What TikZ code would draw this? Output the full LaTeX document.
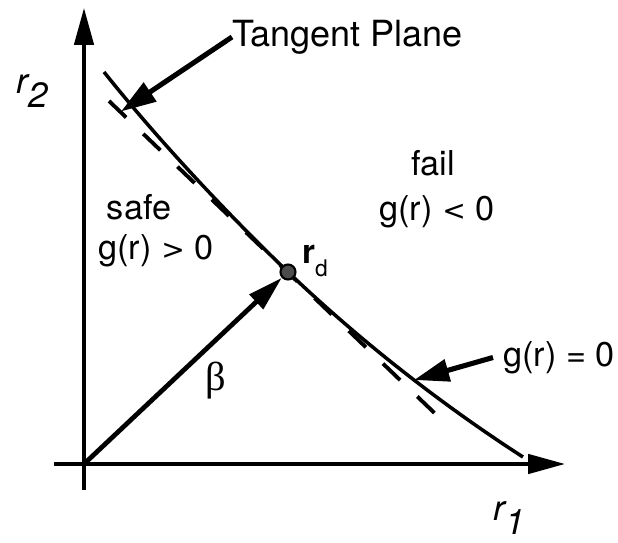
\documentclass[tikz,border=0pt]{standalone}
\usepackage{fontspec}
\setmainfont{TeX Gyre Heros}
\newfontfamily\greekfont{Liberation Serif}
\newfontfamily\relfont{DejaVu Sans}
\usetikzlibrary{arrows.meta}

\tikzset{
  axis/.style={line width=2pt, -{Triangle[length=21pt,width=11pt]}},
  limitstate/.style={line width=2pt},
  tangentline/.style={line width=2.2pt, dash pattern=on 13.5pt off 13.5pt},
  leader/.style={line width=2.9pt, -{Triangle[length=20pt,width=12.5pt]}},
  betavec/.style={line width=2.7pt, -{Triangle[length=20pt,width=11pt]}},
  lbl/.style={font=\fontsize{19.5}{23}\selectfont, inner sep=0pt},
  axislbl/.style={font=\fontsize{20}{23}\selectfont\itshape, inner sep=0pt},
}
\newcommand{\rel}[1]{{\relfont\fontsize{16}{18}\selectfont #1}}

\begin{document}
\begin{tikzpicture}
    \useasboundingbox (-1.68,-1.58) rectangle (10.68,9.28);

    %% axes
    \coordinate (O) at (0,0);
    \coordinate (xstart) at (-0.6,0);
    \coordinate (xend) at (9.62,0);
    \coordinate (ystart) at (0,-0.52);
    \coordinate (yend) at (0,9.12);
    \draw[axis] (xstart) -- (xend);
    \draw[axis] (ystart) -- (yend);
    \node[axislbl] (r1) at (8.5,-1.08) {r\raisebox{-0.4em}{1}};
    \node[axislbl] (r2) at (-1.04,7.46) {r\raisebox{-0.4em}{2}};

    %% limit state surface
    \coordinate (top) at (0.4,7.84);
    \coordinate (bottom) at (8.78,0.14);
    \coordinate (rdpt) at (4.08,3.84);
    \draw[limitstate] (top) .. controls (1.5,6.46) and (2.88,4.99) .. (rdpt)
        .. controls (5.68,2.31) and (7.38,1.04) .. (bottom);

    %% tangent plane at the design point
    \coordinate (tstart) at (0.5,7.26);
    \coordinate (tend) at (7.26,0.78);
    \draw[tangentline] (tstart) -- (tend);

    %% design point and beta
    \node[circle, draw, line width=1.2pt, fill=black!70, minimum size=0.3cm,
          inner sep=0pt] (rd) at (rdpt) {};
    \draw[betavec] (O) -- (rd);
    \node[inner sep=0pt, font=\fontsize{19}{22}\selectfont] (rdlbl) at (4.62,4.06)
        {\bfseries r\raisebox{-0.4em}{\fontsize{13}{14}\selectfont\mdseries d}};
    \node[inner sep=0pt, font=\fontsize{23}{26}\selectfont\greekfont] (beta)
        at (2.64,1.66) {β};

    %% regions
    \node[lbl] (fail) at (6.98,6.02) {fail};
    \node[lbl] (gneg) at (7.06,5.04) {g(r) \rel{<} 0};
    \node[lbl] (safe) at (1.1,5.13) {safe};
    \node[lbl] (gpos) at (1.44,4.26) {g(r) \rel{>} 0};

    %% callouts
    \node[lbl, font=\fontsize{20.5}{24}\selectfont, anchor=west] (tangent)
        at (2.96,8.54) {Tangent Plane};
    \coordinate (ttip) at (0.74,7.05);
    \draw[leader] (tangent.west) -- (ttip);

    \node[lbl, inner xsep=0.2cm, anchor=west] (gzero) at (8.18,2.13) {g(r) = 0};
    \coordinate (gtip) at (6.6,1.68);
    \draw[leader] (gzero.west) -- (gtip);
\end{tikzpicture}
\end{document}
